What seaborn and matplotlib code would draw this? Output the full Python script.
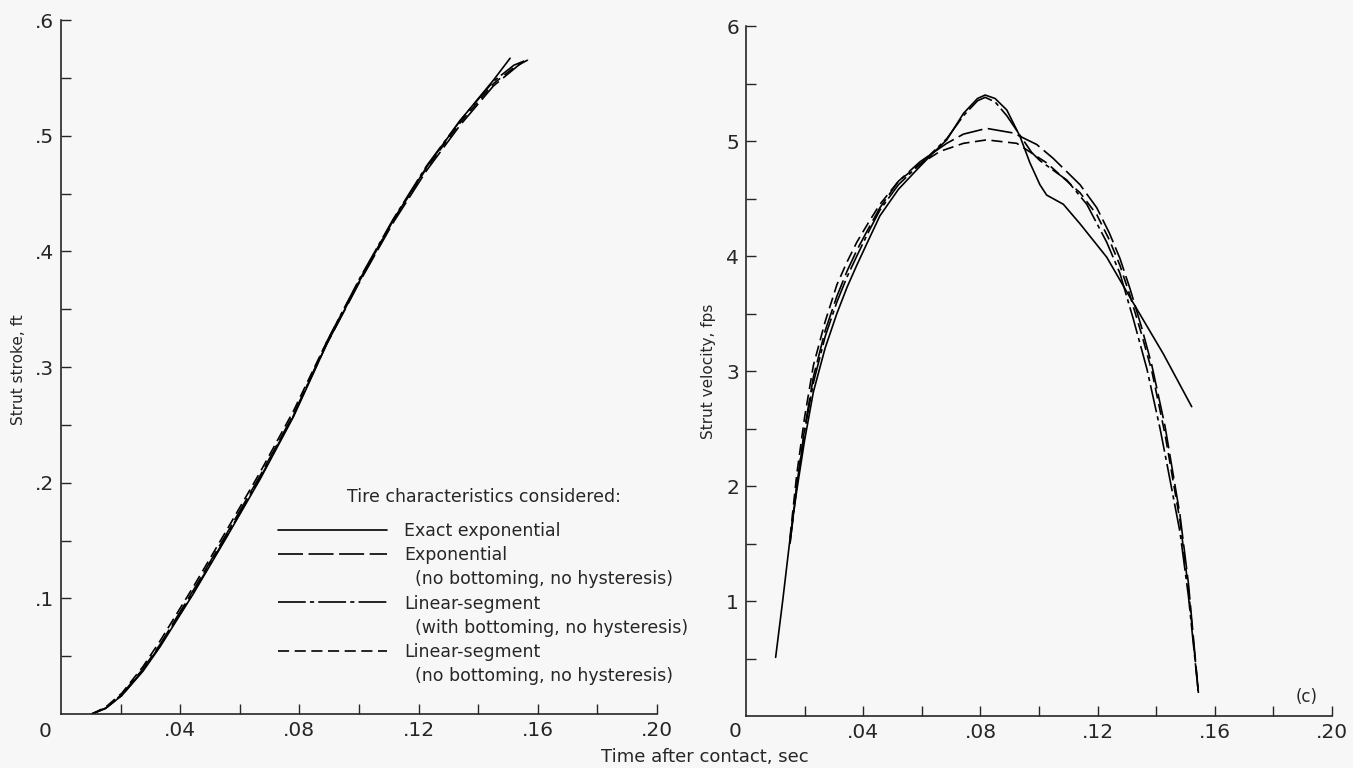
import numpy as np
import pandas as pd
import matplotlib
matplotlib.use("Agg")
import matplotlib.pyplot as plt
from matplotlib.lines import Line2D
import seaborn as sns

# ---------------- data ----------------
series_names = ["Exact exponential",
                "Exponential (no bottoming, no hysteresis)",
                "Linear-segment (with bottoming, no hysteresis)",
                "Linear-segment (no bottoming, no hysteresis)"]

# Strut stroke, ft  vs time, sec
stroke_t_exact = [0.0103, 0.015, 0.0204, 0.0275, 0.0332, 0.0444, 0.0556, 0.0668, 0.078,
                  0.0892, 0.1003, 0.1115, 0.1227, 0.1339, 0.1451, 0.1507]
stroke_y_exact = [0.0, 0.005, 0.016, 0.037, 0.058, 0.104, 0.153, 0.203, 0.257,
                  0.320, 0.375, 0.427, 0.473, 0.513, 0.548, 0.567]
stroke_t_expo = [0.0103, 0.015, 0.0204, 0.0275, 0.0332, 0.0444, 0.0556, 0.0668, 0.078,
                 0.0892, 0.1003, 0.1115, 0.1227, 0.1339, 0.1451, 0.1545]
stroke_y_expo = [0.0, 0.005, 0.017, 0.039, 0.060, 0.107, 0.156, 0.206, 0.259,
                 0.320, 0.374, 0.425, 0.470, 0.509, 0.543, 0.563]
stroke_t_linb = [0.0103, 0.015, 0.0204, 0.0275, 0.0332, 0.0444, 0.0556, 0.0668, 0.078,
                 0.0892, 0.1003, 0.1115, 0.1227, 0.1339, 0.1451, 0.152, 0.1568]
stroke_y_linb = [0.0, 0.005, 0.016, 0.038, 0.059, 0.105, 0.154, 0.204, 0.258,
                 0.322, 0.377, 0.428, 0.474, 0.513, 0.547, 0.561, 0.566]
stroke_t_linn = [0.0103, 0.015, 0.0204, 0.0275, 0.0332, 0.0444, 0.0556, 0.0668, 0.078,
                 0.0892, 0.1003, 0.1115, 0.1227, 0.1339, 0.1451, 0.152, 0.157]
stroke_y_linn = [0.0, 0.006, 0.018, 0.041, 0.063, 0.110, 0.159, 0.209, 0.262,
                 0.322, 0.376, 0.427, 0.472, 0.511, 0.545, 0.559, 0.566]

# Strut velocity, fps vs time, sec
vel_t_exact = [0.0101, 0.0125, 0.0150, 0.0173, 0.0200, 0.0230, 0.0270, 0.0310, 0.0345,
               0.0378, 0.0420, 0.0457, 0.0520, 0.0594, 0.0640, 0.0685, 0.0742, 0.0790,
               0.0816, 0.0850, 0.0890, 0.0935, 0.0969, 0.1003, 0.1026, 0.1083, 0.1140,
               0.1231, 0.1322, 0.1424, 0.1521]
vel_v_exact = [0.51, 1.00, 1.54, 1.96, 2.40, 2.82, 3.20, 3.50, 3.73,
               3.92, 4.15, 4.35, 4.58, 4.78, 4.90, 5.01, 5.24, 5.37,
               5.40, 5.37, 5.27, 5.04, 4.81, 4.62, 4.53, 4.45, 4.28,
               3.99, 3.59, 3.15, 2.69]
vel_t_expo = [0.0150, 0.0173, 0.0200, 0.0230, 0.0270, 0.0310, 0.0345, 0.0378, 0.0420,
              0.0457, 0.0520, 0.0594, 0.0685, 0.0742, 0.0821, 0.0912, 0.0992, 0.1048,
              0.1140, 0.1197, 0.1240, 0.1276, 0.1310, 0.1350, 0.1385, 0.1430, 0.1481,
              0.1510, 0.1544]
vel_v_expo = [1.50, 2.00, 2.50, 2.95, 3.35, 3.65, 3.87, 4.05, 4.25,
              4.42, 4.65, 4.82, 4.98, 5.06, 5.11, 5.07, 4.97, 4.85,
              4.62, 4.42, 4.20, 3.98, 3.72, 3.38, 3.05, 2.52, 1.75,
              1.15, 0.20]
vel_t_linb = [0.0150, 0.0173, 0.0200, 0.0230, 0.0270, 0.0310, 0.0345, 0.0378, 0.0420,
              0.0457, 0.0520, 0.0594, 0.0640, 0.0685, 0.0742, 0.0790, 0.0816, 0.0850,
              0.0890, 0.0935, 0.0975, 0.1003, 0.1095, 0.1163, 0.1231, 0.1276, 0.1322,
              0.1368, 0.1413, 0.1436, 0.1481, 0.1510, 0.1544]
vel_v_linb = [1.50, 2.00, 2.48, 2.90, 3.30, 3.60, 3.82, 4.00, 4.22,
              4.40, 4.62, 4.80, 4.91, 5.02, 5.22, 5.35, 5.38, 5.34,
              5.22, 5.05, 4.90, 4.83, 4.66, 4.45, 4.12, 3.85, 3.45,
              3.02, 2.50, 2.20, 1.60, 1.04, 0.20]
vel_t_linn = [0.0150, 0.0173, 0.0200, 0.0230, 0.0270, 0.0310, 0.0345, 0.0378, 0.0420,
              0.0457, 0.0520, 0.0594, 0.0662, 0.0742, 0.0821, 0.0924, 0.1026, 0.1140,
              0.1197, 0.1240, 0.1276, 0.1310, 0.1350, 0.1385, 0.1430, 0.1481, 0.1510,
              0.1544]
vel_v_linn = [1.55, 2.10, 2.60, 3.05, 3.43, 3.75, 3.95, 4.12, 4.30,
              4.45, 4.65, 4.80, 4.91, 4.98, 5.01, 4.98, 4.81, 4.55,
              4.36, 4.14, 3.92, 3.66, 3.32, 3.00, 2.45, 1.70, 1.10,
              0.20]

x_major = [0.04, 0.08, 0.12, 0.16, 0.20]
x_major_labels = [".04", ".08", ".12", ".16", ".20"]
x_minor = [0.02, 0.06, 0.10, 0.14, 0.18]
stroke_major = [0.1, 0.2, 0.3, 0.4, 0.5, 0.6]
stroke_labels = [".1", ".2", ".3", ".4", ".5", ".6"]
stroke_minor = [0.05, 0.15, 0.25, 0.35, 0.45, 0.55]
vel_major = [1, 2, 3, 4, 5, 6]
vel_labels = ["1", "2", "3", "4", "5", "6"]
vel_minor = [0.5, 1.5, 2.5, 3.5, 4.5, 5.5]

# ---------------- build tables ----------------
def long_table(ts, vs, col):
    parts = []
    for name, t, v in zip(series_names, ts, vs):
        parts.append(pd.DataFrame({"t": t, col: v, "series": name}))
    return pd.concat(parts, ignore_index=True)

df_stroke = long_table([stroke_t_exact, stroke_t_expo, stroke_t_linb, stroke_t_linn],
                       [stroke_y_exact, stroke_y_expo, stroke_y_linb, stroke_y_linn], "stroke")
df_vel = long_table([vel_t_exact, vel_t_expo, vel_t_linb, vel_t_linn],
                    [vel_v_exact, vel_v_expo, vel_v_linb, vel_v_linn], "vel")

# ---------------- style ----------------
sns.set_theme(style="ticks")
plt.rcParams["font.family"] = ["DejaVu Sans"]
plt.rcParams["lines.scale_dashes"] = False
ink = "#262626"
bg = "#f7f7f7"
plt.rcParams["text.color"] = ink
plt.rcParams["axes.labelcolor"] = ink
plt.rcParams["xtick.color"] = ink
plt.rcParams["ytick.color"] = ink

dash_map = {series_names[0]: "",
            series_names[1]: (18, 4),
            series_names[2]: (20, 3, 3, 3),
            series_names[3]: (8, 4)}
LW = 1.2

fig = plt.figure(figsize=(13.53, 7.68), dpi=100, facecolor=bg)
ax1 = fig.add_axes([0.0451, 0.0703, 0.4405, 0.9036])
ax2 = fig.add_axes([0.5514, 0.0677, 0.4331, 0.8984])

sns.lineplot(data=df_stroke, x="t", y="stroke", style="series", style_order=series_names,
             dashes=dash_map, color="black", lw=LW, estimator=None, sort=False,
             legend=False, ax=ax1)
sns.lineplot(data=df_vel, x="t", y="vel", style="series", style_order=series_names,
             dashes=dash_map, color="black", lw=LW, estimator=None, sort=False,
             legend=False, ax=ax2)

for ax in (ax1, ax2):
    ax.set_facecolor(bg)
    ax.set_xlim(0, 0.2)
    ax.set_xticks(x_major)
    ax.set_xticklabels(x_major_labels)
    ax.set_xticks(x_minor, minor=True)
    ax.tick_params(which="both", direction="in", length=7, width=1.0, color=ink)
    ax.tick_params(which="major", labelsize=14.5, pad=5)
    for s in ("top", "right"):
        ax.spines[s].set_visible(False)
    for s in ("left", "bottom"):
        ax.spines[s].set_linewidth(1.2)
        ax.spines[s].set_color(ink)
    ax.set_xlabel("")

ax1.set_ylim(0, 0.6)
ax1.set_yticks(stroke_major)
ax1.set_yticklabels(stroke_labels)
ax1.set_yticks(stroke_minor, minor=True)
ax1.set_ylabel("Strut stroke, ft", fontsize=11)
ax1.yaxis.set_label_coords(-0.059, 0.496)

ax2.set_ylim(0, 6)
ax2.set_yticks(vel_major)
ax2.set_yticklabels(vel_labels)
ax2.set_yticks(vel_minor, minor=True)
ax2.set_ylabel("Strut velocity, fps", fontsize=11)
ax2.yaxis.set_label_coords(-0.052, 0.5)

# origin labels
ax1.annotate("0", xy=(0, 0), xycoords="axes fraction", xytext=(-11.5, -12.5),
             textcoords="offset points", ha="center", va="center", fontsize=14.5)
ax2.annotate("0", xy=(0, 0), xycoords="axes fraction", xytext=(-8, -11.5),
             textcoords="offset points", ha="center", va="center", fontsize=14.5)

ax2.text(0.956, 0.028, "(c)", transform=ax2.transAxes, ha="center", va="center", fontsize=12)

fig.text(705 / 1353, 1 - 757 / 768, "Time after contact, sec", ha="center", va="center",
         fontsize=13)

# legend
def handle(name):
    d = dash_map[name]
    if d == "":
        return Line2D([], [], color="black", lw=LW, linestyle="-")
    return Line2D([], [], color="black", lw=LW, dashes=d)

blank = Line2D([], [], linestyle="none")
handles = [handle(series_names[0]), handle(series_names[1]), blank,
           handle(series_names[2]), blank, handle(series_names[3]), blank]
labels = ["Exact exponential", "Exponential", "  (no bottoming, no hysteresis)",
          "Linear-segment", "  (with bottoming, no hysteresis)",
          "Linear-segment", "  (no bottoming, no hysteresis)"]
leg = ax1.legend(handles, labels, loc="upper left", bbox_to_anchor=(0.364, 0.277),
                 frameon=False, fontsize=12.5, handlelength=6.3, handletextpad=0.98,
                 labelspacing=0.36, borderpad=0, borderaxespad=0)
ax1.text(0.7097, 0.3127, "Tire characteristics considered:", transform=ax1.transAxes,
         ha="center", va="center", fontsize=12.5)

fig.savefig("out.png", dpi=100, facecolor=bg)
